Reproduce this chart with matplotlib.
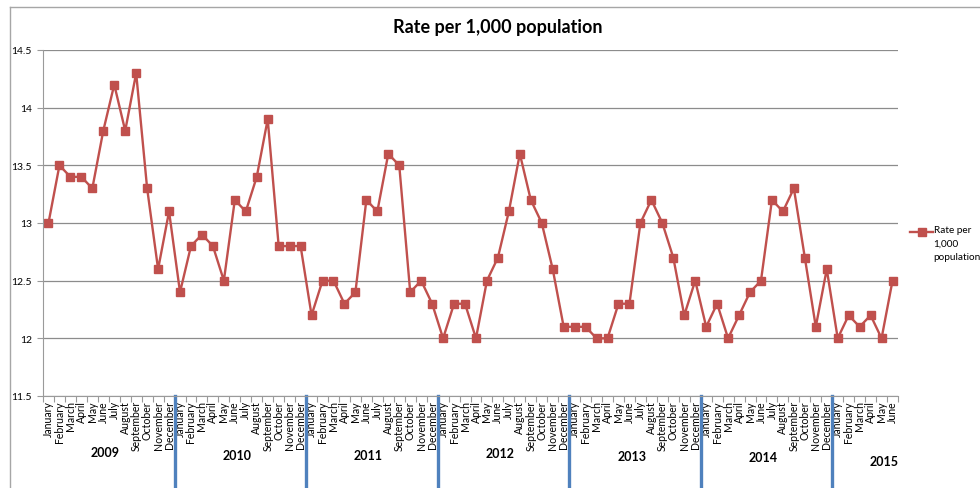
import numpy as np
import matplotlib
matplotlib.use('Agg')
import matplotlib.pyplot as plt
from matplotlib.lines import Line2D
import matplotlib.transforms as mtransforms

plt.rcParams['font.family'] = ['Lato', 'DejaVu Sans']

# data
months = ['January', 'February', 'March', 'April', 'May', 'June', 'July',
          'August', 'September', 'October', 'November', 'December']
years = ['2009', '2010', '2011', '2012', '2013', '2014', '2015']
months_per_year = [12, 12, 12, 12, 12, 12, 6]
rate = [
    13.0, 13.5, 13.4, 13.4, 13.3, 13.8, 14.2, 13.8, 14.3, 13.3, 12.6, 13.1,  # 2009
    12.4, 12.8, 12.9, 12.8, 12.5, 13.2, 13.1, 13.4, 13.9, 12.8, 12.8, 12.8,  # 2010
    12.2, 12.5, 12.5, 12.3, 12.4, 13.2, 13.1, 13.6, 13.5, 12.4, 12.5, 12.3,  # 2011
    12.0, 12.3, 12.3, 12.0, 12.5, 12.7, 13.1, 13.6, 13.2, 13.0, 12.6, 12.1,  # 2012
    12.1, 12.1, 12.0, 12.0, 12.3, 12.3, 13.0, 13.2, 13.0, 12.7, 12.2, 12.5,  # 2013
    12.1, 12.3, 12.0, 12.2, 12.4, 12.5, 13.2, 13.1, 13.3, 12.7, 12.1, 12.6,  # 2014
    12.0, 12.2, 12.1, 12.2, 12.0, 12.5,                                      # 2015
]
series_name = 'Rate per 1,000 population'
legend_text = 'Rate per\n1,000\npopulation'

W, H = 980, 489
fig = plt.figure(figsize=(W / 100, H / 100), dpi=100)
red = '#c0504d'

# chart area border (left and top visible)
fig.add_artist(Line2D([10 / W, 10 / W], [0, 1 - 8 / H], transform=fig.transFigure,
                      color='#a6a6a6', lw=1))
fig.add_artist(Line2D([10 / W, 1], [1 - 8 / H, 1 - 8 / H], transform=fig.transFigure,
                      color='#a6a6a6', lw=1))

ax = fig.add_axes([43 / W, 1 - 397 / H, (898 - 43) / W, (397 - 51) / H])

labels = []
for y, n in zip(years, months_per_year):
    labels += months[:n]
x = np.arange(len(rate))

ax.plot(x, rate, color=red, lw=1.7, marker='s', markersize=5.2,
        markeredgecolor=red)

ax.set_xlim(-0.5, len(rate) - 0.5)
ax.set_ylim(11.5, 14.5)
ax.set_yticks(np.arange(11.5, 14.51, 0.5))
ax.set_yticklabels(['11.5', '12', '12.5', '13', '13.5', '14', '14.5'])
ax.yaxis.grid(True, color='#8c8c8c', lw=0.9)
ax.set_axisbelow(True)

for s in ['top', 'right']:
    ax.spines[s].set_visible(False)
for s in ['left', 'bottom']:
    ax.spines[s].set_color('#9a9a9a')
ax.tick_params(axis='y', length=4, color='#9a9a9a', labelsize=7.5, pad=4)

# category boundaries as ticks, month names as labels
ax.set_xticks(np.arange(-0.5, len(rate), 1.0))
ax.set_xticklabels([])
ax.tick_params(axis='x', which='major', length=4, color='#9a9a9a')
ax.set_xticks(x, minor=True)
ax.set_xticklabels(labels, minor=True, rotation=90, fontsize=7.6, va='top')
ax.tick_params(axis='x', which='minor', length=0, pad=3)

# year separators and year labels
trans = mtransforms.blended_transform_factory(ax.transData, ax.transAxes)
start = 0
year_y = [453, 456, 456, 454, 457, 458, 462]
for i, (yr, n) in enumerate(zip(years, months_per_year)):
    if i > 0:
        ax.add_line(Line2D([start - 0.5, start - 0.5], [0, -0.3], transform=trans,
                           color='#4f81bd', lw=2.4, clip_on=False))
    xc = start + 5.2 if n == 12 else start + 4.2
    fig.text(ax.transData.transform((xc, 0))[0] / W, 1 - year_y[i] / H, yr,
             ha='center', va='center', fontsize=9, fontweight='bold')
    start += n

fig.text(498 / W, 1 - 28 / H, series_name, ha='center', va='center',
         fontsize=13, fontweight='bold')

# legend drawn by hand: handle beside the first line of the wrapped label
fig.add_artist(Line2D([910 / W, 933 / W], [1 - 233 / H, 1 - 233 / H],
                      transform=fig.transFigure, color=red, lw=1.7))
fig.add_artist(Line2D([921.5 / W], [1 - 233 / H], transform=fig.transFigure,
                      marker='s', markersize=5.2, color=red, lw=0))
fig.text(933.5 / W, 1 - 226.5 / H, legend_text, ha='left', va='top', fontsize=7.2,
         linespacing=1.6)

fig.savefig('out.png', dpi=100)
